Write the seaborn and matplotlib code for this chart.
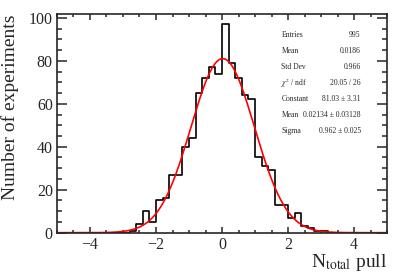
import numpy as np
import pandas as pd
import matplotlib
matplotlib.use("Agg")
import matplotlib.pyplot as plt
import seaborn as sns

# bin left edges (width 0.2) and counts
bin_lo = [-3.0, -2.8, -2.6, -2.4, -2.2, -2.0, -1.8, -1.6, -1.4, -1.2, -1.0,
          -0.8, -0.6, -0.4, -0.2, 0.0, 0.2, 0.4, 0.6, 0.8, 1.0, 1.2, 1.4,
          1.6, 1.8, 2.0, 2.2, 2.4, 2.6, 2.8, 3.0]
counts = [0, 1, 4, 10, 5, 15, 16, 27, 27, 40, 44,
          65, 72, 77, 74, 97, 79, 72, 64, 62, 35, 31, 29,
          13, 13, 7, 9, 3, 2, 1, 1]

# gaus fit result shown in the stat box
fit_const = 81.03
fit_mean = 0.02134
fit_sigma = 0.962

stat_labels = ["Entries", "Mean", "Std Dev", r"$\chi^{2}$ / ndf",
               "Constant", "Mean", "Sigma"]
stat_values = ["995", "0.0186", "0.966", "20.05 / 26",
               "81.03 \u00b1 3.31", "0.02134 \u00b1 0.03128", "0.962 \u00b1 0.025"]

sns.set_style("ticks")
plt.rcParams["font.family"] = ["Liberation Serif", "DejaVu Serif"]
plt.rcParams["mathtext.fontset"] = "stix"

df = pd.DataFrame({"x": np.array(bin_lo) + 0.1, "n": counts})

fig = plt.figure(figsize=(4.07, 2.77), dpi=100)
ax = fig.add_axes([0.140, 0.160, 0.811, 0.788])

sns.histplot(data=df, x="x", weights="n", binwidth=0.2, binrange=(-5, 5),
             element="step", fill=False, color="black", linewidth=1.2, ax=ax)

xf = np.linspace(-5, 5, 600)
yf = fit_const * np.exp(-0.5 * ((xf - fit_mean) / fit_sigma) ** 2)
sns.lineplot(x=xf, y=yf, color="red", linewidth=1.2, ax=ax)

ax.set_xlim(-5, 5)
ax.set_ylim(0, 101.6)
ax.set_xticks([-4, -2, 0, 2, 4])
ax.set_xticks(np.arange(-5, 5.01, 0.5), minor=True)
ax.set_yticks([0, 20, 40, 60, 80, 100])
ax.set_yticks(np.arange(0, 101, 5), minor=True)
ax.set_xticklabels(["\u22124", "\u22122", "0", "2", "4"])

for s in ax.spines.values():
    s.set_linewidth(1.2)
ax.tick_params(which="both", direction="in", top=True, right=True,
               width=1.1, labelsize=11.5, pad=3)
ax.tick_params(axis="x", which="major", length=4.5)
ax.tick_params(axis="x", which="minor", length=2.3)
ax.tick_params(axis="y", which="major", length=7)
ax.tick_params(axis="y", which="minor", length=3.5)

ax.set_xlabel(r"N$_{\mathrm{total}}$ pull", fontsize=14, loc="right")
ax.set_ylabel("Number of experiments", fontsize=14, loc="top")
ax.yaxis.set_label_coords(-0.115, 1.0)
ax.xaxis.set_label_coords(1.0, -0.088)

for i, (lab, val) in enumerate(zip(stat_labels, stat_values)):
    yy = 0.905 - i * 0.0735
    ax.text(0.68, yy, lab, transform=ax.transAxes, fontsize=5.5,
            ha="left", va="center")
    ax.text(0.92, yy, val, transform=ax.transAxes, fontsize=5.5,
            ha="right", va="center")

fig.savefig("out.png", dpi=100)
